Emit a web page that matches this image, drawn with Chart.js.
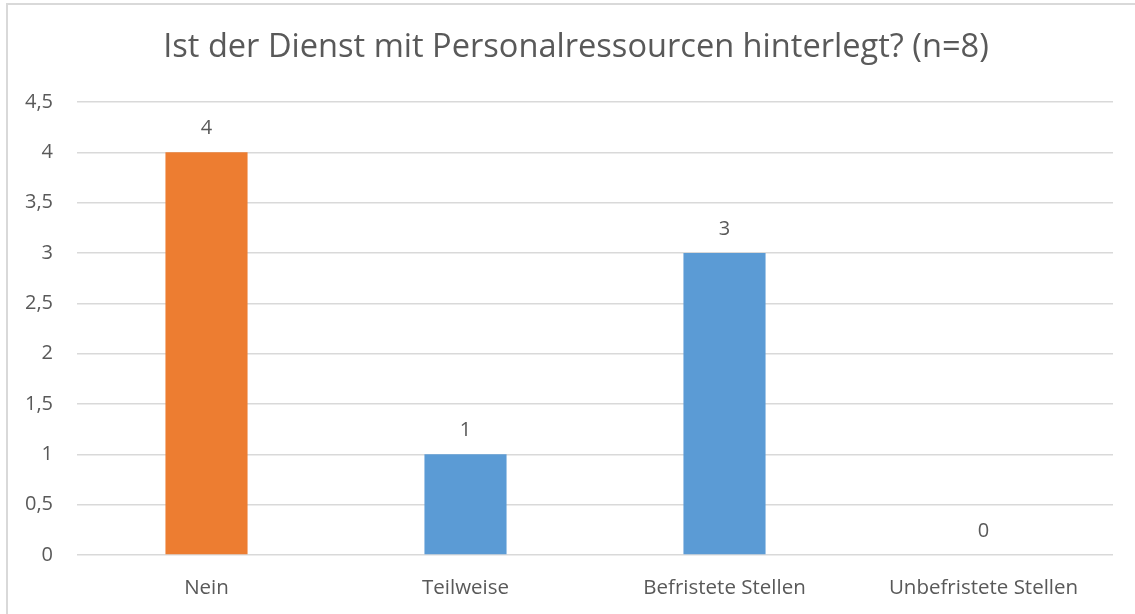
<!DOCTYPE html>
<html lang="de">
<head>
<meta charset="utf-8">
<title>Personalressourcen</title>
<script src="https://cdn.jsdelivr.net/npm/chart.js@4/dist/chart.umd.min.js"></script>
<style>
  html, body { margin: 0; padding: 0; background: #fff; overflow: hidden; }
  #wrap { position: relative; width: 1135px; height: 614px; }
  #frame {
    position: absolute; left: 6px; top: 3px; width: 1200px; height: 700px;
    border: 2px solid #d9d9d9; box-sizing: border-box; pointer-events: none;
  }
  canvas { position: absolute; left: 0; top: 0; }
</style>
</head>
<body>
<div id="wrap">
  <canvas id="chart" width="1135" height="614"></canvas>
  <div id="frame"></div>
</div>
<script>
// ── Data ─────────────────────────────────────────────────────────────────
const categories = ['Nein', 'Teilweise', 'Befristete Stellen', 'Unbefristete Stellen'];
const counts = [4, 1, 3, 0];
const barColors = ['#ED7D31', '#5B9BD5', '#5B9BD5', '#5B9BD5'];
const yTicks = [0, 0.5, 1, 1.5, 2, 2.5, 3, 3.5, 4, 4.5];
const chartTitle = 'Ist der Dienst mit Personalressourcen hinterlegt? (n=8)';

const textColor = '#595959';
const fontFamily = "'Open Sans', 'Noto Sans', sans-serif";
const deNum = v => String(v).replace('.', ',');

// value labels above each bar
const valueLabels = {
  id: 'valueLabels',
  afterDatasetsDraw(chart) {
    const ctx = chart.ctx;
    const meta = chart.getDatasetMeta(0);
    ctx.save();
    ctx.fillStyle = textColor;
    ctx.font = `20px ${fontFamily}`;
    ctx.textAlign = 'center';
    ctx.textBaseline = 'middle';
    meta.data.forEach((bar, i) => {
      ctx.fillText(deNum(counts[i]), bar.x, bar.y - 24);
    });
    ctx.restore();
  }
};

// title centred on the framed box rather than the canvas
const frameTitle = {
  id: 'frameTitle',
  afterDraw(chart) {
    const ctx = chart.ctx;
    ctx.save();
    ctx.fillStyle = textColor;
    ctx.font = `32.6px ${fontFamily}`;
    ctx.textAlign = 'center';
    ctx.textBaseline = 'middle';
    ctx.fillText(chartTitle, 576, 48);
    ctx.restore();
  }
};

new Chart(document.getElementById('chart'), {
  type: 'bar',
  data: {
    labels: categories,
    datasets: [{
      data: counts,
      backgroundColor: barColors,
      borderWidth: 0,
      barPercentage: 1,
      categoryPercentage: 0.317,
    }]
  },
  options: {
    responsive: false,
    animation: false,
    layout: { padding: { left: 0, right: 22, top: 102, bottom: 0 } },
    plugins: {
      legend: { display: false },
      tooltip: { enabled: false },
      title: { display: false },
    },
    scales: {
      x: {
        grid: { display: false },
        border: { display: false },
        ticks: { color: textColor, font: { family: fontFamily, size: 20.5 }, padding: 13 },
        afterFit: s => { s.height = 59; },
      },
      y: {
        min: 0,
        max: 4.5,
        afterBuildTicks: s => { s.ticks = yTicks.map(v => ({ value: v })); },
        grid: { color: '#d9d9d9', lineWidth: 1.5, drawTicks: false },
        border: { display: false },
        ticks: {
          color: textColor,
          font: { family: fontFamily, size: 20 },
          padding: 24,
          callback: v => deNum(v),
        },
        afterFit: s => { s.width = 77; },
      },
    },
  },
  plugins: [valueLabels, frameTitle],
});
</script>
</body>
</html>
